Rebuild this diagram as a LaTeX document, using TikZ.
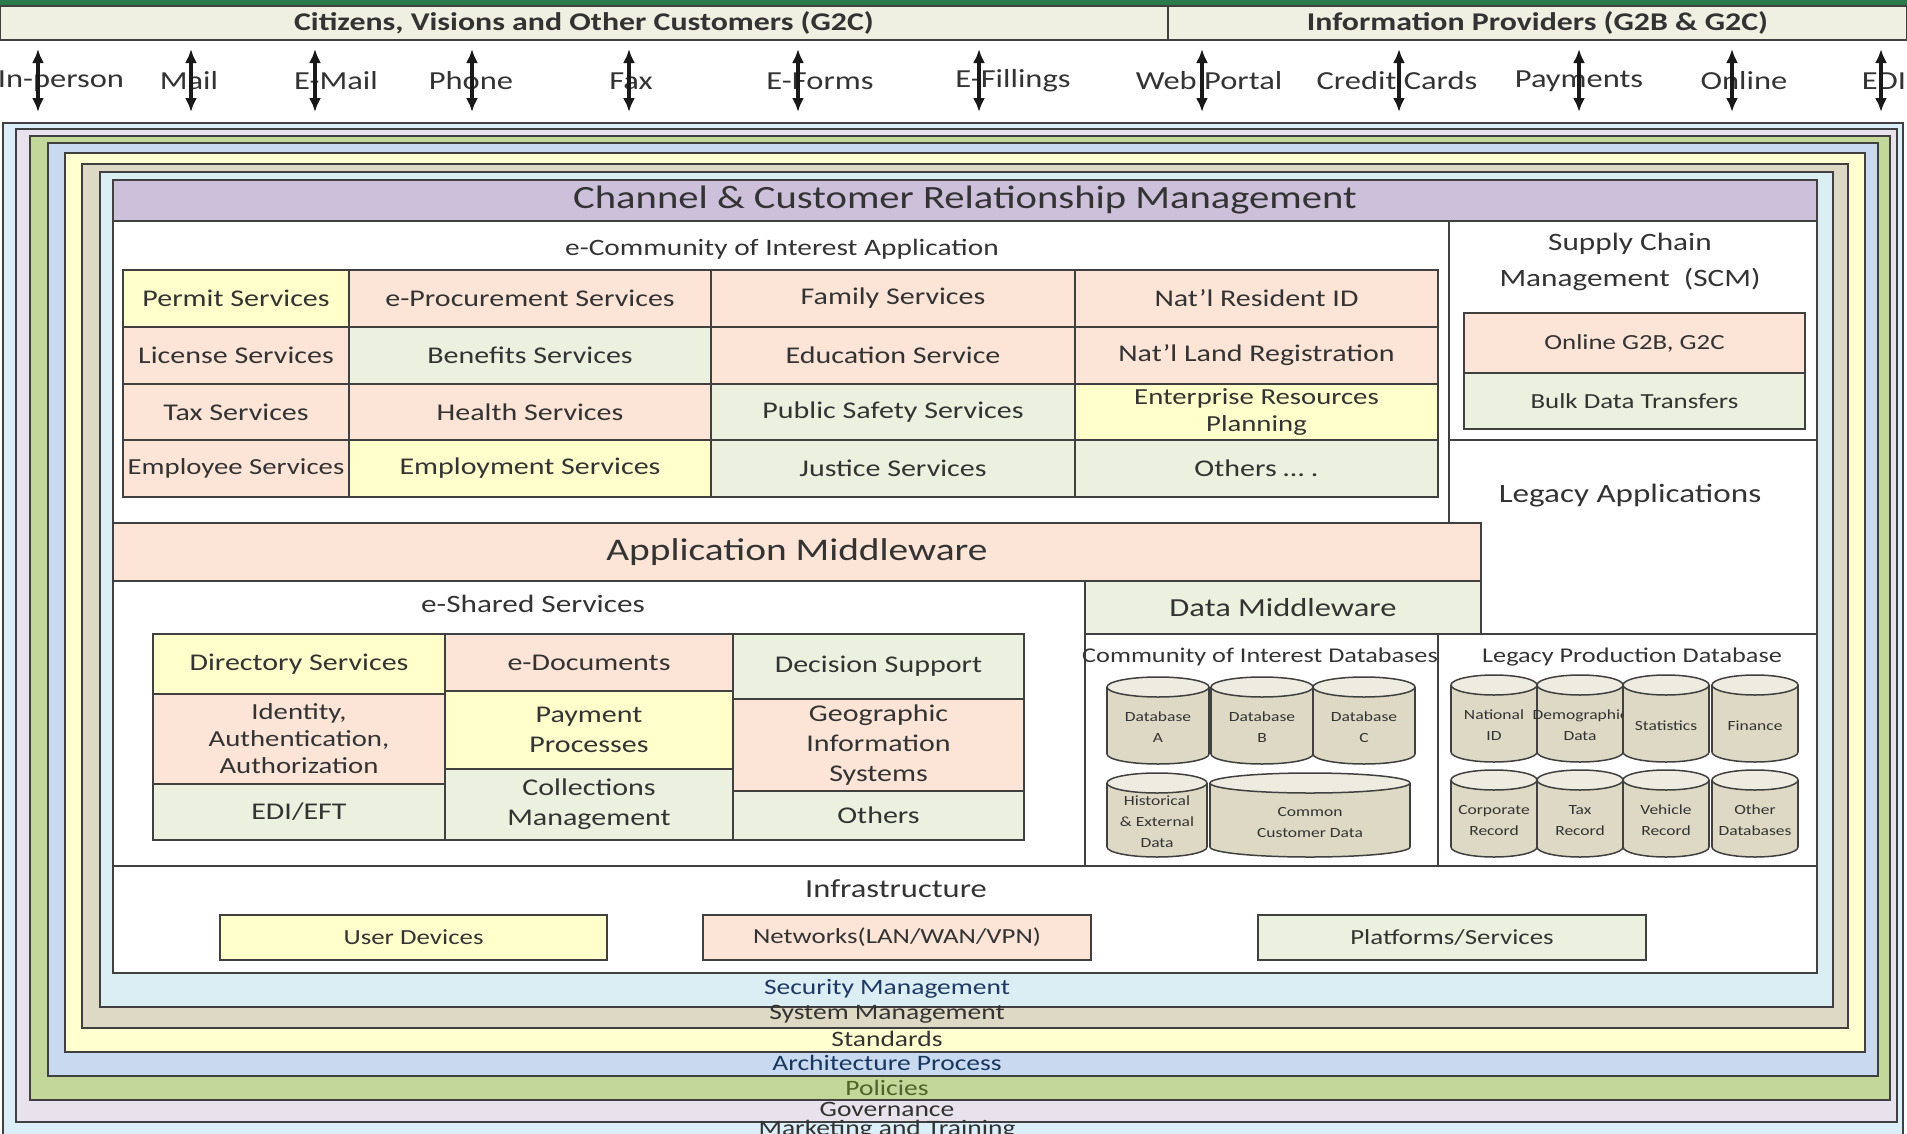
\documentclass[tikz,border=0pt]{standalone}
\usepackage{fontspec}
\setmainfont{Carlito}[FakeStretch=1.25]
\usetikzlibrary{arrows.meta}
\definecolor{peach}{HTML}{FCE4D6}
\definecolor{paleyel}{HTML}{FFFFCC}
\definecolor{palegrn}{HTML}{EBF1DE}
\definecolor{lav}{HTML}{CCC0DA}
\definecolor{tanc}{HTML}{DDD9C4}
\definecolor{tanl}{HTML}{EEECE1}
\definecolor{lineC}{HTML}{404040}
\definecolor{txt}{HTML}{333333}
\definecolor{gbar}{HTML}{2B7A4B}
\definecolor{hdr}{HTML}{EFEFE2}
\definecolor{cMkt}{HTML}{DCEEF7}
\definecolor{cGov}{HTML}{E8E2EC}
\definecolor{cPol}{HTML}{C4D79B}
\definecolor{cArch}{HTML}{C9DAF0}
\definecolor{cStd}{HTML}{FFFFD0}
\definecolor{cSys}{HTML}{DDD9C4}
\definecolor{cSec}{HTML}{DAEEF3}
\newcommand\mycell[8][]{\node[cellst,fill=#7,minimum width={#5-#3},minimum height={#6-#4},#1] (#2) at ({(#3+#5)/2},{(#4+#6)/2}) {#8};}
\newcommand\mycyl[6]{%
  \filldraw[dbst,fill=tanc] (#2,{#4-10}) ellipse [x radius=#5pt, y radius=10pt];
  \fill[tanc] ({#2-#5},{#3+10}) rectangle ({#2+#5},{#4-10});
  \draw[dbst] ({#2-#5},{#3+10}) -- ({#2-#5},{#4-10}) ({#2+#5},{#3+10}) -- ({#2+#5},{#4-10});
  \filldraw[dbst,fill=tanl] (#2,{#3+10}) ellipse [x radius=#5pt, y radius=10pt];
  \node[dbtext] (#1) at (#2,{(#3+#4)/2+7}) {#6};}
\newcommand\mychan[4]{%
  \node[chanlbl] (#1) at (#2,81) {#4};
  \coordinate (#1t) at (#3,49); \coordinate (#1b) at (#3,112);
  \draw[dblarr] (#1t) -- (#1b);}
\begin{document}
\begin{tikzpicture}[x=1pt,y=-1pt,
  cellst/.style={draw=lineC,line width=1.8pt,inner sep=1pt,outer sep=0pt,align=center,text=txt,font=\fontsize{24}{26}\selectfont},
  ttl/.style={inner sep=0pt,text=txt,align=center},
  framest/.style={draw=lineC,line width=2.2pt},
  boxst/.style={draw=lineC,line width=1.8pt},
  dbst/.style={draw=lineC,line width=1.5pt},
  dbtext/.style={inner sep=0pt,align=center,text=txt,font=\fontsize{14}{21}\selectfont},
  chanlbl/.style={inner sep=0pt,text=txt,font=\fontsize{26}{28}\selectfont},
  dblarr/.style={{Latex[length=14pt,width=12pt]}-{Latex[length=14pt,width=12pt]},line width=3.2pt,draw=black!90},
  laylbl/.style={inner sep=0pt,font=\fontsize{22}{24}\selectfont},
  hdrbox/.style={draw=lineC,line width=2.2pt,fill=hdr,inner sep=0pt,text=txt,font=\fontsize{25.5}{27}\selectfont\bfseries}]
\useasboundingbox (0,0) rectangle (1907,1133);
\clip (0,0) rectangle (1907,1133);
\fill[white] (0,0) rectangle (1907,1133);
% top header
\fill[gbar] (0,0) rectangle (1907,6);
\node[hdrbox,minimum width=1168pt,minimum height=34pt] (g2c) at (584,23) {Citizens, Visions and Other Customers (G2C)};
\node[hdrbox,minimum width=739pt,minimum height=34pt] (g2b) at (1537.5,23) {Information Providers (G2B \& G2C)};
% channels
\mychan{inp}{61}{38}{In-person}
\mychan{mail}{189}{191}{Mail}
\mychan{email}{336}{315}{E-Mail}
\mychan{phone}{471}{472}{Phone}
\mychan{fax}{631}{629}{Fax}
\mychan{eforms}{820}{798}{E-Forms}
\mychan{efil}{1013}{979}{E-Fillings}
\mychan{web}{1209}{1202}{Web Portal}
\mychan{cc}{1397}{1399}{Credit Cards}
\mychan{paym}{1579}{1579}{Payments}
\mychan{online}{1744}{1732}{Online}
\mychan{edich}{1884}{1881}{EDI}
% layers
\draw[framest,fill=cMkt] (3,123) rectangle (1903,1150);
\draw[framest,fill=cGov] (16,129) rectangle (1897,1122);
\draw[framest,fill=cPol] (30,136) rectangle (1890,1100);
\draw[framest,fill=cArch] (48,143) rectangle (1878,1076);
\draw[framest,fill=cStd] (65,153) rectangle (1865,1052);
\draw[framest,fill=cSys] (82,164) rectangle (1848,1028);
\draw[framest,fill=cSec] (100,172) rectangle (1833,1007);
\draw[framest,fill=white] (113,180) rectangle (1817,973);
\node[laylbl,text={rgb,255:red,31;green,56;blue,100}] (secl) at (887,989) {Security Management};
\node[laylbl,text=txt] (sysl) at (887,1014) {System Management};
\node[laylbl,text=txt] (stdl) at (887,1039) {Standards};
\node[laylbl,text={rgb,255:red,23;green,55;blue,94}] (archl) at (887,1063) {Architecture Process};
\node[laylbl,text={rgb,255:red,79;green,98;blue,40}] (poll) at (887,1088) {Policies};
\node[laylbl,text=txt] (govl) at (887,1109) {Governance};
\node[laylbl,text=txt] (mktl) at (887,1130) {Marketing and Training};
% CRM header
\node[draw=lineC,line width=2.2pt,fill=lav,minimum width=1704pt,minimum height=41pt,inner sep=0pt,text=txt,font=\fontsize{32.5}{34}\selectfont] (crm) at (965,200.5) {Channel \& Customer Relationship Management};
% e-Community
\draw[boxst] (113,221) rectangle (1449,523);
\node[ttl,font=\fontsize{23.5}{25}\selectfont] (ecoit) at (782,249) {e-Community of Interest Application};
\mycell{permit}{123}{270}{349}{327}{paleyel}{Permit Services}
\mycell{eproc}{349}{270}{711}{327}{peach}{e-Procurement Services}
\mycell{family}{711}{270}{1075}{327}{peach}{Family Services}
\mycell{resid}{1075}{270}{1438}{327}{peach}{Nat'l Resident ID}
\mycell{license}{123}{327}{349}{384}{peach}{License Services}
\mycell{benef}{349}{327}{711}{384}{palegrn}{Benefits Services}
\mycell{educ}{711}{327}{1075}{384}{peach}{Education Service}
\mycell{land}{1075}{327}{1438}{384}{peach}{Nat'l Land Registration}
\mycell{tax}{123}{384}{349}{440}{peach}{Tax Services}
\mycell{health}{349}{384}{711}{440}{peach}{Health Services}
\mycell{safety}{711}{384}{1075}{440}{palegrn}{Public Safety Services}
\mycell[font=\fontsize{23}{27}\selectfont]{erp}{1075}{384}{1438}{440}{paleyel}{Enterprise Resources\\Planning}
\mycell[font=\fontsize{23}{26}\selectfont]{employee}{123}{440}{349}{497}{peach}{Employee Services}
\mycell{employ}{349}{440}{711}{497}{paleyel}{Employment Services}
\mycell{justice}{711}{440}{1075}{497}{palegrn}{Justice Services}
\mycell{others1}{1075}{440}{1438}{497}{palegrn}{Others \dots\ .}
% SCM
\draw[boxst] (1449,221) rectangle (1817,440);
\node[ttl,font=\fontsize{25}{36}\selectfont] (scm) at (1630,262) {Supply Chain\\Management~~(SCM)};
\mycell[font=\fontsize{21.5}{23}\selectfont]{g2bc}{1464}{313}{1805}{373}{peach}{Online G2B, G2C}
\mycell[font=\fontsize{21.5}{23}\selectfont]{bulk}{1464}{373}{1805}{429}{palegrn}{Bulk Data Transfers}
% Legacy applications
\draw[boxst] (1449,440) rectangle (1817,634);
\node[ttl,font=\fontsize{26.5}{28}\selectfont] (legapp) at (1630,496) {Legacy Applications};
% middleware
\mycell[font=\fontsize{31.5}{33}\selectfont]{appmw}{113}{523}{1481}{581}{peach}{Application Middleware}
\draw[boxst] (113,581) rectangle (1085,866);
\node[ttl,font=\fontsize{25}{27}\selectfont] (eshared) at (533,604) {e-Shared Services};
\mycell[font=\fontsize{26}{28}\selectfont]{datamw}{1085}{581}{1481}{634}{palegrn}{Data Middleware}
% shared services grid
\mycell{dir}{153}{634}{445}{694}{paleyel}{Directory Services}
\mycell[font=\fontsize{23}{27}\selectfont]{iaa}{153}{694}{445}{784}{peach}{Identity,\\Authentication,\\Authorization}
\mycell{edi}{153}{784}{445}{840}{palegrn}{EDI/EFT}
\mycell{edoc}{445}{634}{733}{691}{peach}{e-Documents}
\mycell[font=\fontsize{24}{30}\selectfont]{pay}{445}{691}{733}{769}{paleyel}{Payment\\Processes}
\mycell[font=\fontsize{24}{30}\selectfont]{coll}{445}{769}{733}{840}{palegrn}{Collections\\Management}
\mycell{dss}{733}{634}{1024}{699}{palegrn}{Decision Support}
\mycell[font=\fontsize{24}{30}\selectfont]{gis}{733}{699}{1024}{791}{peach}{Geographic\\Information\\Systems}
\mycell{oth2}{733}{791}{1024}{840}{palegrn}{Others}
% databases
\draw[boxst] (1085,634) rectangle (1438,866);
\node[ttl,font=\fontsize{21}{23}\selectfont] (coidb) at (1260,657) {Community of Interest Databases};
\draw[boxst] (1438,634) rectangle (1817,866);
\node[ttl,font=\fontsize{21}{23}\selectfont] (legdb) at (1632,657) {Legacy Production Database};
\mycyl{dba}{1158}{677}{764}{51}{Database\\A}
\mycyl{dbb}{1262}{677}{764}{51}{Database\\B}
\mycyl{dbcc}{1364}{677}{764}{51}{Database\\C}
\mycyl{hist}{1157}{773}{857}{50}{Historical\\\& External\\Data}
\mycyl{common}{1310}{773}{857}{100}{Common\\Customer Data}
\mycyl{natid}{1494}{675}{762}{43}{National\\ID}
\mycyl{demo}{1580}{675}{762}{43}{Demographic\\Data}
\mycyl{stat}{1666}{675}{762}{43}{Statistics}
\mycyl{fin}{1755}{675}{762}{43}{Finance}
\mycyl{corp}{1494}{770}{857}{43}{Corporate\\Record}
\mycyl{taxr}{1580}{770}{857}{43}{Tax\\Record}
\mycyl{veh}{1666}{770}{857}{43}{Vehicle\\Record}
\mycyl{othdb}{1755}{770}{857}{43}{Other\\Databases}
% infrastructure
\draw[boxst] (113,866) rectangle (1817,973);
\node[ttl,font=\fontsize{26}{28}\selectfont] (infra) at (896,889) {Infrastructure};
\mycell[font=\fontsize{21.5}{23}\selectfont]{userdev}{220}{915}{607}{960}{paleyel}{User Devices}
\mycell[font=\fontsize{21.5}{23}\selectfont]{net}{703}{915}{1091}{960}{peach}{Networks(LAN/WAN/VPN)}
\mycell[font=\fontsize{21.5}{23}\selectfont]{plat}{1258}{915}{1646}{960}{palegrn}{Platforms/Services}
\end{tikzpicture}
\end{document}
